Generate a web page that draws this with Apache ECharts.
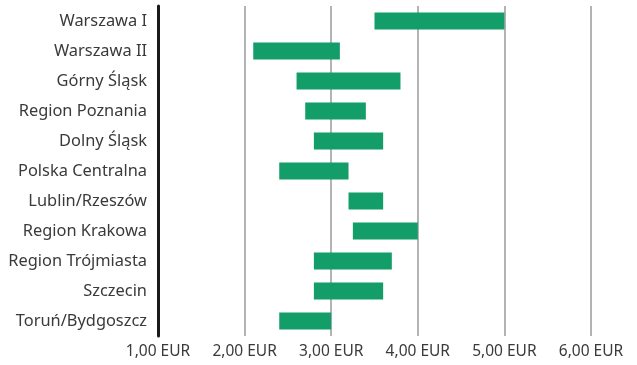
<!DOCTYPE html>
<html>
<head>
<meta charset="utf-8">
<script src="https://cdn.jsdelivr.net/npm/echarts@6/dist/echarts.min.js"></script>
<style>
html,body{margin:0;padding:0;background:#fff;}
#chart{width:637px;height:365px;}
</style>
</head>
<body>
<div id="chart"></div>
<script>
const categories = ["Warszawa I","Warszawa II","Górny Śląsk","Region Poznania","Dolny Śląsk","Polska Centralna","Lublin/Rzeszów","Region Krakowa","Region Trójmiasta","Szczecin","Toruń/Bydgoszcz"];
const lowValues  = [3.50, 2.10, 2.60, 2.70, 2.80, 2.40, 3.20, 3.25, 2.80, 2.80, 2.40];
const highValues = [5.00, 3.10, 3.80, 3.40, 3.60, 3.20, 3.60, 4.00, 3.70, 3.60, 3.00];
const xTicks = [1, 2, 3, 4, 5, 6];

const spans = highValues.map((h, i) => +(h - lowValues[i]).toFixed(4));
const font = "Noto Sans";

const chart = echarts.init(document.getElementById('chart'), null, {renderer: 'canvas'});
chart.setOption({
  animation: false,
  backgroundColor: '#fff',
  grid: {left: 158, right: 46, top: 6, bottom: 29, containLabel: false},
  xAxis: {
    type: 'value',
    min: xTicks[0], max: xTicks[xTicks.length - 1], interval: 1,
    axisLine: {show: false},
    axisTick: {show: false},
    splitLine: {show: true, lineStyle: {color: '#9a9a9a', width: 1.5}},
    axisLabel: {
      margin: 8,
      fontFamily: font, fontSize: 15.5, color: '#3a3a3a',
      formatter: v => v.toFixed(2).replace('.', ',') + ' EUR'
    }
  },
  yAxis: {
    type: 'category',
    inverse: true,
    data: categories,
    axisLine: {show: true, lineStyle: {color: '#1a1a1a', width: 3}},
    axisTick: {show: false},
    splitLine: {show: false},
    axisLabel: {margin: 11, fontFamily: font, fontSize: 16.4, color: '#3a3a3a'}
  },
  series: [
    {
      type: 'bar', stack: 'r', data: lowValues, barWidth: 17,
      itemStyle: {color: 'transparent'}, silent: true
    },
    {
      type: 'bar', stack: 'r', data: spans, barWidth: 17,
      itemStyle: {color: '#139d69'}
    }
  ]
});
</script>
</body>
</html>
